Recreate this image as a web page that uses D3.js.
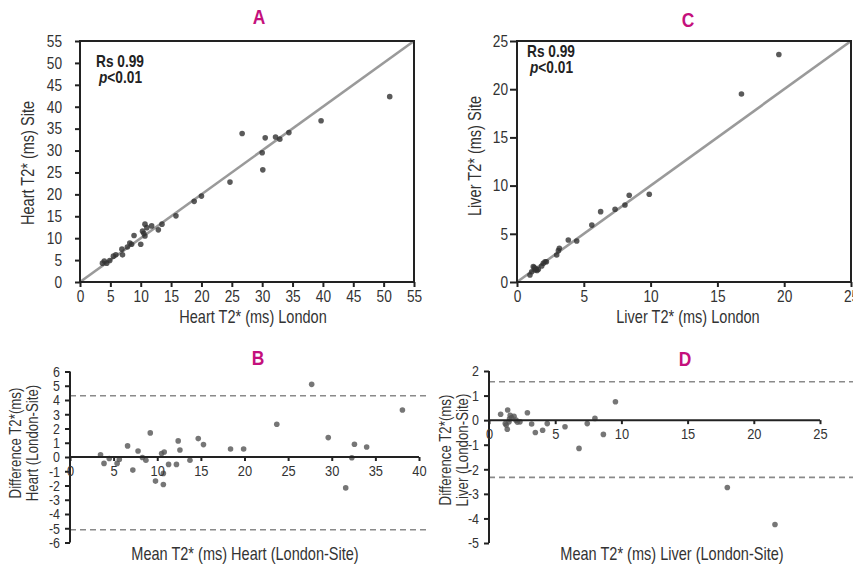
<!DOCTYPE html>
<html><head><meta charset="utf-8">
<script src="https://cdn.jsdelivr.net/npm/d3@7"></script>
<style>
body{margin:0;background:#fff;}
svg{display:block;}
text{font-family:"Liberation Sans",Arial,Helvetica,sans-serif;fill:#333;}
</style></head><body>
<svg id="chart" width="853" height="566"></svg>
<script>
// ---- Data ----
const heartLondon = [3.7,4.0,4.4,4.9,5.5,5.9,6.9,7.0,7.8,8.5,8.2,8.9,10.0,10.5,10.7,10.7,11.0,11.8,12.9,10.3,13.5,15.8,18.8,20.0,24.7,26.7,30.1,30.0,30.5,32.2,32.9,34.4,39.7,51.0];
const heartSite   = [4.3,4.8,4.3,4.9,5.9,6.2,7.5,6.2,8.0,8.6,8.9,10.6,8.6,11.1,10.5,13.2,12.4,12.8,11.9,11.6,13.2,15.1,18.4,19.6,22.8,33.9,25.6,29.5,32.9,33.1,32.6,34.1,36.8,42.3];

const liverLondon = [0.97,1.1,1.22,1.35,1.5,1.6,1.85,1.97,2.1,2.2,2.97,3.1,3.17,3.84,4.47,5.6,6.26,7.34,8.08,8.4,9.9,16.8,19.6,1.3,1.45];
const liverSite   = [0.73,1.07,1.59,1.25,1.2,1.32,1.66,1.94,2.1,2.1,2.8,3.25,3.5,4.36,4.25,5.9,7.3,7.54,7.99,9.0,9.1,19.5,23.6,1.5,1.35];

const heartMean = [3.5,3.9,4.5,5.4,5.65,6.6,7.2,7.8,8.3,8.7,9.2,9.8,10.5,10.8,11.3,10.7,10.7,12.2,12.4,12.6,13.75,14.7,15.3,18.4,19.9,23.7,27.7,29.6,31.6,32.3,32.6,34.0,38.1];
const heartDiff = [0.15,-0.45,-0.1,-0.45,-0.17,0.78,-0.92,0.42,-0.04,-0.23,1.69,-1.69,0.24,0.35,-0.52,-1.15,-1.93,-0.52,1.13,0.49,-0.23,1.29,0.87,0.56,0.56,2.3,5.1,1.36,-2.17,-0.05,0.89,0.7,3.3];

const liverMean = [0.88,1.41,1.23,1.38,1.51,1.71,1.89,2.04,2.14,2.34,2.9,3.22,3.5,4.05,4.4,5.74,6.8,7.42,8.0,8.64,9.55,18.0,21.6,1.3,1.55,1.6];
const liverDiff = [0.24,0.41,-0.14,-0.37,-0.07,0.11,0.16,0.0,-0.08,-0.07,0.3,-0.16,-0.5,-0.41,-0.14,-0.27,-1.15,-0.14,0.07,-0.58,0.75,-2.74,-4.25,-0.2,0.05,0.2];

const heartLimits = [4.3, -5.1];
const liverLimits = [1.56, -2.33];

const heartScatterTicks = [0,5,10,15,20,25,30,35,40,45,50,55];
const liverScatterTicks = [0,5,10,15,20,25];
const heartBAxTicks = [0,5,10,15,20,25,30,35,40];
const heartBAyTicks = [6,5,4,3,2,1,0,-1,-2,-3,-4,-5,-6];
const liverBAxTicks = [0,5,10,15,20,25];
const liverBAyTicks = [2,1,0,-1,-2,-3,-4,-5];

const titles = ["A","B","C","D"];
const statLines = ["Rs 0.99","<0.01"];

// ---- Drawing ----
const svg = d3.select("#chart");
const defs = svg.append("defs");
defs.append("filter").attr("id","soft").attr("x","-50%").attr("y","-50%").attr("width","200%").attr("height","200%")
  .append("feGaussianBlur").attr("stdDeviation",0.7);

function title(t, x, y){
  svg.append("text").attr("x",x).attr("y",y).attr("text-anchor","middle")
    .style("font-size","21px").style("font-weight","bold").style("fill","#c4107c").text(t);
}

function styleAxis(g, fs){
  g.selectAll("path.domain").remove();
  g.selectAll(".tick line").attr("stroke","#222").attr("stroke-width",2);
  g.selectAll(".tick text").style("font-size",fs+"px").style("fill","#333");
}
const fmt = d => String(d);

function scatter(o){
  const x = d3.scaleLinear().domain([0,o.max]).range([o.x0,o.x1]);
  const y = d3.scaleLinear().domain([0,o.max]).range([o.y0,o.y1]);
  const g = svg.append("g");
  g.append("line").attr("x1",x(0)).attr("y1",y(0)).attr("x2",x(o.max)).attr("y2",y(o.max))
    .attr("stroke","#9a9a9a").attr("stroke-width",2.6);
  g.selectAll("circle.p").data(o.xs.map((v,i)=>[v,o.ys[i]])).join("circle")
    .attr("class","p").attr("cx",d=>x(d[0])).attr("cy",d=>y(d[1])).attr("r",2.8)
    .attr("fill","#333").attr("opacity",0.8).attr("filter","url(#soft)");
  g.append("rect").attr("x",o.x0).attr("y",o.y1).attr("width",o.x1-o.x0).attr("height",o.y0-o.y1)
    .attr("fill","none").attr("stroke","#222").attr("stroke-width",2);
  const ax = g.append("g").attr("transform",`translate(0,${o.y0})`)
    .call(d3.axisBottom(x).tickValues(o.ticks).tickSize(5).tickSizeOuter(0).tickPadding(3).tickFormat(fmt));
  styleAxis(ax,16.5);
  const ay = g.append("g").attr("transform",`translate(${o.x0},0)`)
    .call(d3.axisLeft(y).tickValues(o.ticks).tickSize(o.ytick).tickSizeOuter(0).tickPadding(o.ypad).tickFormat(fmt));
  styleAxis(ay,16.5);
  g.append("text").attr("x",o.xlx).attr("y",o.xly).attr("text-anchor","middle").style("font-size","17.5px").text(o.xlabel);
  g.append("text").attr("transform",`translate(${o.ylx},${o.yly}) rotate(-90)`).attr("text-anchor","middle").style("font-size","17.5px").text(o.ylabel);
  g.append("text").attr("x",o.sx).attr("y",o.sy).style("font-size","16.5px").style("font-weight","bold").style("fill","#222").text(statLines[0]);
  const t2 = g.append("text").attr("x",o.sx+3).attr("y",o.sy+16).style("font-size","16.5px").style("font-weight","bold").style("fill","#222");
  t2.append("tspan").style("font-style","italic").style("fill","#222").text("p");
  t2.append("tspan").style("fill","#222").text(statLines[1]);
}

function bland(o){
  const x = d3.scaleLinear().domain([0,o.xmax]).range([o.x0,o.x1]);
  const y = d3.scaleLinear().domain([o.ymin,o.ymax]).range([o.y0,o.y1]);
  const g = svg.append("g");
  g.selectAll("line.lim").data(o.limits).join("line").attr("class","lim")
    .attr("x1",o.x0).attr("x2",o.dashEnd).attr("y1",d=>y(d)).attr("y2",d=>y(d))
    .attr("stroke","#8a8a8a").attr("stroke-width",1.6).attr("stroke-dasharray","6,4");
  g.selectAll("circle.p").data(o.xs.map((v,i)=>[v,o.ys[i]])).join("circle")
    .attr("class","p").attr("cx",d=>x(d[0])).attr("cy",d=>y(d[1])).attr("r",2.8)
    .attr("fill","#555").attr("opacity",0.8).attr("filter","url(#soft)");
  const ay = g.append("g").attr("transform",`translate(${o.x0},0)`)
    .call(d3.axisLeft(y).tickValues(o.yticks).tickSize(5).tickSizeOuter(0).tickPadding(5).tickFormat(fmt));
  styleAxis(ay,15);
  g.append("line").attr("x1",o.x0).attr("x2",o.x0).attr("y1",y(o.ymin)).attr("y2",y(o.ymax)).attr("stroke","#222").attr("stroke-width",2);
  const ax = g.append("g").attr("transform",`translate(0,${y(0)})`)
    .call(d3.axisBottom(x).tickValues(o.xticks).tickSize(4).tickSizeOuter(0).tickPadding(4).tickFormat(fmt));
  styleAxis(ax,15.5);
  g.append("line").attr("x1",o.x0).attr("x2",x(o.xmax)).attr("y1",y(0)).attr("y2",y(0)).attr("stroke","#222").attr("stroke-width",2);
  g.append("text").attr("x",o.xlx).attr("y",o.xly).attr("text-anchor","middle").style("font-size","17.5px").text(o.xlabel);
  o.ylabel.forEach((l,i)=>{
    g.append("text").attr("transform",`translate(${o.ylx[i]},${o.yly}) rotate(-90)`).attr("text-anchor","middle").style("font-size","16px").text(l);
  });
}

scatter({max:55, x0:80, x1:414, y0:282, y1:41, ticks:heartScatterTicks, xs:heartLondon, ys:heartSite,
  ytick:5, ypad:13, xlabel:"Heart T2* (ms) London", xlx:253, xly:323, ylabel:"Heart T2* (ms) Site", ylx:34, yly:163, sx:96, sy:67});
scatter({max:25, x0:517, x1:851, y0:282, y1:41, ticks:liverScatterTicks, xs:liverLondon, ys:liverSite,
  ytick:7, ypad:2, xlabel:"Liver T2* (ms) London", xlx:688, xly:323, ylabel:"Liver T2* (ms) Site", ylx:481, yly:156, sx:527, sy:57});

bland({xmax:40, x0:70, x1:419, ymin:-6, ymax:6, y0:542.5, y1:371.5, xticks:heartBAxTicks, yticks:heartBAyTicks,
  xs:heartMean, ys:heartDiff, limits:heartLimits, dashEnd:430,
  xlabel:"Mean T2* (ms) Heart (London-Site)", xlx:245, xly:560,
  ylabel:["Difference T2*(ms)","Heart (London-Site)"], ylx:[21,38], yly:443});
bland({xmax:25, x0:489, x1:820, ymin:-5, ymax:2, y0:543, y1:371, xticks:liverBAxTicks, yticks:liverBAyTicks,
  xs:liverMean, ys:liverDiff, limits:liverLimits, dashEnd:853,
  xlabel:"Mean T2* (ms) Liver (London-Site)", xlx:672, xly:560,
  ylabel:["Difference T2*(ms)","Liver (London-Site)"], ylx:[451,468], yly:450});

title(titles[0],259,24);
title(titles[1],258,365);
title(titles[2],688,27);
title(titles[3],685,366);

// condense all text horizontally (narrow grotesque look)
const K = 0.83;
svg.selectAll("text").each(function(){
  const t = d3.select(this);
  const x = +(t.attr("x") || 0);
  t.attr("x", x / K);
  const tr = t.attr("transform") || "";
  t.attr("transform", (tr + ` scale(${K},1)`).trim());
});
</script>
</body></html>
